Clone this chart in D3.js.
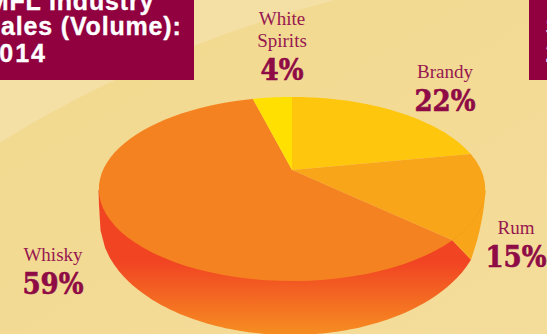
<!DOCTYPE html>
<html>
<head>
<meta charset="utf-8">
<script src="https://cdn.jsdelivr.net/npm/d3@7"></script>
<style>
html,body{margin:0;padding:0;background:#f3dc98;overflow:hidden}
svg{display:block}
</style>
</head>
<body>
<svg id="chart" width="547" height="334"></svg>
<script>
const categories = ["Brandy", "Rum", "Whisky", "White Spirits"];
const shares = [22, 15, 59, 4];
const sliceColors = ["#fec60c", "#f9a51a", "#f58220", "#ffe000"];
const titleLines = ["IMFL Industry", "Sales (Volume):", "2014"];
const titleX = [-20, -16.5, -16.6];
const titleY = [10, 35, 62];
const titleSpacing = [0.83, 0.83, 2];
const labelLines = [["Brandy"], ["Rum"], ["Whisky"], ["White", "Spirits"]];
const labelAnchors = [[445, 78], [516, 234], [53, 261], [282, 25]];

const W = 547, H = 334;
const svg = d3.select("#chart");
const defs = svg.append("defs");

// Page background with a pale swoosh across the upper left corner
const bg = defs.append("linearGradient").attr("id", "bgFill")
  .attr("x1", 0).attr("y1", 0).attr("x2", 1).attr("y2", 1);
bg.append("stop").attr("offset", 0).attr("stop-color", "#f2d98e");
bg.append("stop").attr("offset", 1).attr("stop-color", "#f4dc9b");
svg.append("rect").attr("width", W).attr("height", H).attr("fill", "url(#bgFill)");
svg.append("path")
  .attr("d", "M0,143 C70,98 190,38 335,0 L0,0 Z")
  .attr("fill", "#f4dfa5");

// Perspective projection of the unit disc onto the tilted pie top
const cx = 292, radius = 189, apexY = 170, persp = -0.2065, lift = 53;
const project = (u, v) => {
  const w = 1 + persp * v;
  return [cx + radius * u / w, (lift * v + apexY) / w];
};
const onRim = a => project(Math.sin(a), -Math.cos(a));
const sample = (a0, a1) => d3.range(0, 61).map(i => onRim(a0 + (a1 - a0) * i / 60));
const line = d3.line();

// Lower rim of the wall, a smaller ellipse than the top
const base = { cx: 291, cy: 222, rx: 191, ry: 113 };
const onBase = x => {
  const t = Math.max(0, 1 - ((x - base.cx) / base.rx) ** 2);
  return base.cy + base.ry * Math.sqrt(t);
};

const arcs = d3.pie().value(d => d).sort(null)(shares);
const rumCorner = onRim(arcs[1].endAngle);
const wallSplit = [471, onBase(471)];

// Side wall, red fading into orange towards the bottom
const wallFill = defs.append("linearGradient").attr("id", "wallFill")
  .attr("gradientUnits", "userSpaceOnUse")
  .attr("x1", 0).attr("y1", 262).attr("x2", 0).attr("y2", 332);
wallFill.append("stop").attr("offset", 0).attr("stop-color", "#f14423");
wallFill.append("stop").attr("offset", 1).attr("stop-color", "#f68b21");

const rimLeft = [98.5, 190], rimRight = [486, 190];
const baseXs = d3.range(0, 81).map(i => 100.5 + (471 - 100.5) * i / 80);
const frontPts = [rimLeft, [99, 205], [100, 222], ...baseXs.map(x => [x, onBase(x)])];
svg.append("path")
  .attr("d", line(frontPts) + "L" + rumCorner + "L" + rimLeft + "Z")
  .attr("fill", "url(#wallFill)");

// Amber wall below the rum slice
svg.append("path")
  .attr("d", d3.line().curve(d3.curveCatmullRom)([wallSplit, [478, 237], [483, 213], [485, 197], rimRight])
    + "L" + rumCorner + "Z")
  .attr("fill", sliceColors[1]);

// Pie top, one wedge per category
svg.append("g").selectAll("path").data(arcs).join("path")
  .attr("d", d => line([project(0, 0), ...sample(d.startAngle, d.endAngle)]) + "Z")
  .attr("fill", (d, i) => sliceColors[i]);

// Thin edge where the rum wedge meets its wall
svg.append("path")
  .attr("d", line(sample(arcs[1].startAngle + 0.55, arcs[1].endAngle)))
  .attr("fill", "none").attr("stroke", "#f39a1c").attr("stroke-width", 0.7);

// Title panels
const panelColor = "#91003f";
svg.append("rect").attr("x", 0).attr("y", 0).attr("width", 194).attr("height", 80).attr("fill", panelColor);
svg.append("rect").attr("x", 529).attr("y", 0).attr("width", 18).attr("height", 80).attr("fill", panelColor);
const titleFont = "'Liberation Sans', Arial, sans-serif";
svg.append("g").selectAll("text").data(titleLines).join("text")
  .attr("x", (d, i) => titleX[i])
  .attr("y", (d, i) => titleY[i])
  .attr("fill", "#fff")
  .attr("stroke", "#fff")
  .attr("stroke-width", 0.35)
  .attr("font-family", titleFont)
  .attr("font-weight", 700)
  .attr("font-size", 25)
  .attr("letter-spacing", (d, i) => titleSpacing[i])
  .text(d => d);
svg.append("g").selectAll("text").data(["S", "2"]).join("text")
  .attr("x", 545.5)
  .attr("y", (d, i) => titleY[i + 1])
  .attr("fill", "#fff")
  .attr("font-family", titleFont)
  .attr("font-weight", 700)
  .attr("font-size", 25)
  .text(d => d);

// Category names and percentages
const ink = "#8e0b45";
const labels = svg.append("g").attr("text-anchor", "middle");
categories.forEach((name, i) => {
  const [x, y] = labelAnchors[i];
  labelLines[i].forEach((txt, j) => {
    labels.append("text").attr("x", x).attr("y", y + j * 22)
      .attr("font-family", "'Liberation Serif', serif")
      .attr("fill", "#96184f").attr("font-size", 19).text(txt);
  });
  labels.append("text")
    .attr("x", x).attr("y", y + (labelLines[i].length - 1) * 22 + 33)
    .attr("font-family", "'DejaVu Serif', serif")
    .attr("font-stretch", "condensed")
    .attr("fill", ink).attr("stroke", ink).attr("stroke-width", 0.6)
    .attr("font-weight", 700).attr("font-size", 29)
    .text(shares[i] + "%");
});
</script>
</body>
</html>
